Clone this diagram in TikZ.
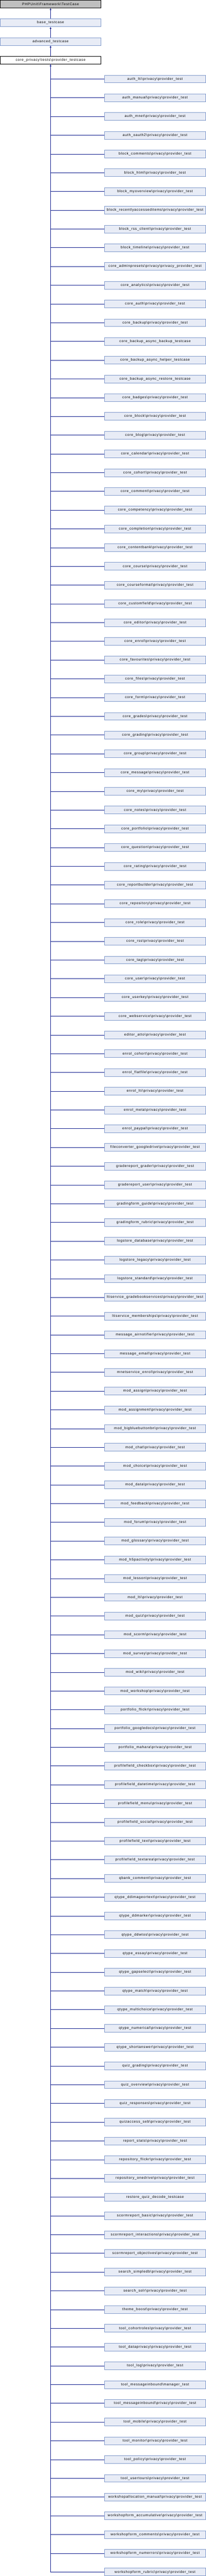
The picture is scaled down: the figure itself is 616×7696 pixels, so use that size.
\documentclass[tikz,border=0pt]{standalone}
\usepackage{fontspec}
\setmainfont{Liberation Sans}[LetterSpace=10.5]
\usetikzlibrary{arrows.meta}
\definecolor{boxfill}{HTML}{E8ECF6}
\definecolor{boxline}{HTML}{7E98CA}
\definecolor{conncol}{HTML}{0D1A8C}
\definecolor{rootfill}{HTML}{BFBFBF}
\newcommand{\bs}{\textbackslash}
\newcommand{\pp}{\textbackslash privacy\textbackslash provider\_test}
\begin{document}
\begin{tikzpicture}[x=1pt,y=-1pt,
  cls/.style={draw=boxline, fill=boxfill, line width=1pt, minimum width=302pt, minimum height=23pt, inner sep=0pt, font=\fontsize{10.5}{12}\selectfont, anchor=center},
  rootcls/.style={cls, draw=black, fill=rootfill},
  curcls/.style={cls, draw=black, fill=white},
  conn/.style={draw=conncol, line width=1pt},
  uptip/.style={{Latex[length=6pt,width=5pt]}-}]
\useasboundingbox (0,0) rectangle (616,7696);
\node[rootcls] (root) at (151.5,12) {PHPUnit\bs Framework\bs TestCase};
\node[cls] (base) at (151.5,68) {base\_testcase};
\node[cls] (adv) at (151.5,124) {advanced\_testcase};
\node[curcls] (core) at (151.5,180) {core\_privacy\bs tests\bs provider\_testcase};
\draw[conn,uptip] (root.south) -- (base.north);
\draw[conn,uptip] (base.south) -- (adv.north);
\draw[conn,uptip] (adv.south) -- (core.north);
\foreach \t [count=\i] in {
auth\_lti\pp, auth\_manual\pp, auth\_mnet\pp, auth\_oauth2\pp, block\_comments\pp, block\_html\pp, block\_myoverview\pp, block\_recentlyaccesseditems\pp, block\_rss\_client\pp, block\_timeline\pp,
core\_adminpresets\bs privacy\bs privacy\_provider\_test, core\_analytics\pp, core\_auth\pp, core\_backup\pp, core\_backup\_async\_backup\_testcase, core\_backup\_async\_helper\_testcase, core\_backup\_async\_restore\_testcase, core\_badges\pp, core\_block\pp, core\_blog\pp,
core\_calendar\pp, core\_cohort\pp, core\_comment\pp, core\_competency\pp, core\_completion\pp, core\_contentbank\pp, core\_course\pp, core\_courseformat\pp, core\_customfield\pp, core\_editor\pp,
core\_enrol\pp, core\_favourites\pp, core\_files\pp, core\_form\pp, core\_grades\pp, core\_grading\pp, core\_group\pp, core\_message\pp, core\_my\pp, core\_notes\pp,
core\_portfolio\pp, core\_question\pp, core\_rating\pp, core\_reportbuilder\pp, core\_repository\pp, core\_role\pp, core\_rss\pp, core\_tag\pp, core\_user\pp, core\_userkey\pp,
core\_webservice\pp, editor\_atto\pp, enrol\_cohort\pp, enrol\_flatfile\pp, enrol\_lti\pp, enrol\_meta\pp, enrol\_paypal\pp, fileconverter\_googledrive\pp, gradereport\_grader\pp, gradereport\_user\pp,
gradingform\_guide\pp, gradingform\_rubric\pp, logstore\_database\pp, logstore\_legacy\pp, logstore\_standard\pp, ltiservice\_gradebookservices\pp, ltiservice\_memberships\pp, message\_airnotifier\pp, message\_email\pp, mnetservice\_enrol\pp,
mod\_assign\pp, mod\_assignment\pp, mod\_bigbluebuttonbn\pp, mod\_chat\pp, mod\_choice\pp, mod\_data\pp, mod\_feedback\pp, mod\_forum\pp, mod\_glossary\pp, mod\_h5pactivity\pp,
mod\_lesson\pp, mod\_lti\pp, mod\_quiz\pp, mod\_scorm\pp, mod\_survey\pp, mod\_wiki\pp, mod\_workshop\pp, portfolio\_flickr\pp, portfolio\_googledocs\pp, portfolio\_mahara\pp,
profilefield\_checkbox\pp, profilefield\_datetime\pp, profilefield\_menu\pp, profilefield\_social\pp, profilefield\_text\pp, profilefield\_textarea\pp, qbank\_comment\pp, qtype\_ddimageortext\pp, qtype\_ddmarker\pp, qtype\_ddwtos\pp,
qtype\_essay\pp, qtype\_gapselect\pp, qtype\_match\pp, qtype\_multichoice\pp, qtype\_numerical\pp, qtype\_shortanswer\pp, quiz\_grading\pp, quiz\_overview\pp, quiz\_responses\pp, quizaccess\_seb\pp,
report\_stats\pp, repository\_flickr\pp, repository\_onedrive\pp, restore\_quiz\_decode\_testcase, scormreport\_basic\pp, scormreport\_interactions\pp, scormreport\_objectives\pp, search\_simpledb\pp, search\_solr\pp, theme\_boost\pp,
tool\_cohortroles\pp, tool\_dataprivacy\pp, tool\_log\pp, tool\_messageinbound\bs manager\_test, tool\_messageinbound\pp, tool\_mobile\pp, tool\_monitor\pp, tool\_policy\pp, tool\_usertours\pp, workshopallocation\_manual\pp,
workshopform\_accumulative\pp, workshopform\_comments\pp, workshopform\_numerrors\pp, workshopform\_rubric\pp}
{
  \node[cls] (c\i) at (464.5,{236+56*(\i-1)}) {\t};
}
\foreach \i in {1,...,133} {
  \draw[conn] (core.south) |- (c\i.west);
}
\draw[conn,uptip] (core.south) |- (c134.west);
\fill[boxline] (c71.south east) -- ++(-5,0) -- ++(5,-5) -- cycle;
\end{tikzpicture}
\end{document}
